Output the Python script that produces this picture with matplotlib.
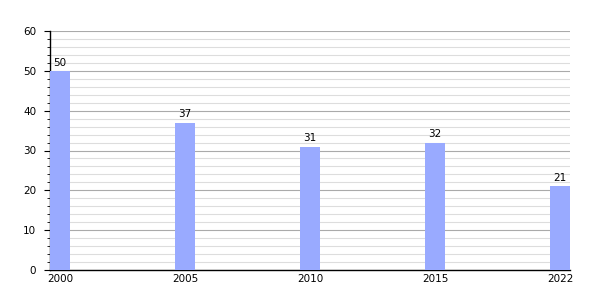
import numpy as np
import matplotlib
matplotlib.use("Agg")
import matplotlib.pyplot as plt
from matplotlib.ticker import MultipleLocator

years = ["2000", "2005", "2010", "2015", "2022"]
values = [50, 37, 31, 32, 21]

fig = plt.figure(figsize=(6, 3), dpi=100)
ax = fig.add_axes([50/600, 30/300, 520/600, 239/300])

x = np.arange(len(years))
ax.bar(x, values, width=0.16, color="#99aaff", zorder=3)
for xi, v in zip(x, values):
    ax.text(xi, v + 0.8, str(v), ha="center", va="bottom", fontsize=7.5, zorder=4)

ax.set_xlim(-0.08, len(years) - 1 + 0.08)
ax.set_ylim(0, 60)
ax.set_xticks(x)
ax.set_xticklabels(years)
ax.yaxis.set_major_locator(MultipleLocator(10))
ax.yaxis.set_minor_locator(MultipleLocator(2))

ax.grid(axis="y", which="major", color="#aaaaaa", linewidth=0.8, zorder=0)
ax.grid(axis="y", which="minor", color="#dddddd", linewidth=0.8, zorder=0)

for s in ["top", "right"]:
    ax.spines[s].set_visible(False)
ax.spines["left"].set_linewidth(1)
ax.spines["bottom"].set_linewidth(1)
ax.tick_params(axis="x", length=0, labelsize=7.5, pad=3)
ax.tick_params(axis="y", which="major", length=4, labelsize=7.5, pad=6)
ax.tick_params(axis="y", which="minor", length=2.5)

fig.savefig("out.png", dpi=100)
